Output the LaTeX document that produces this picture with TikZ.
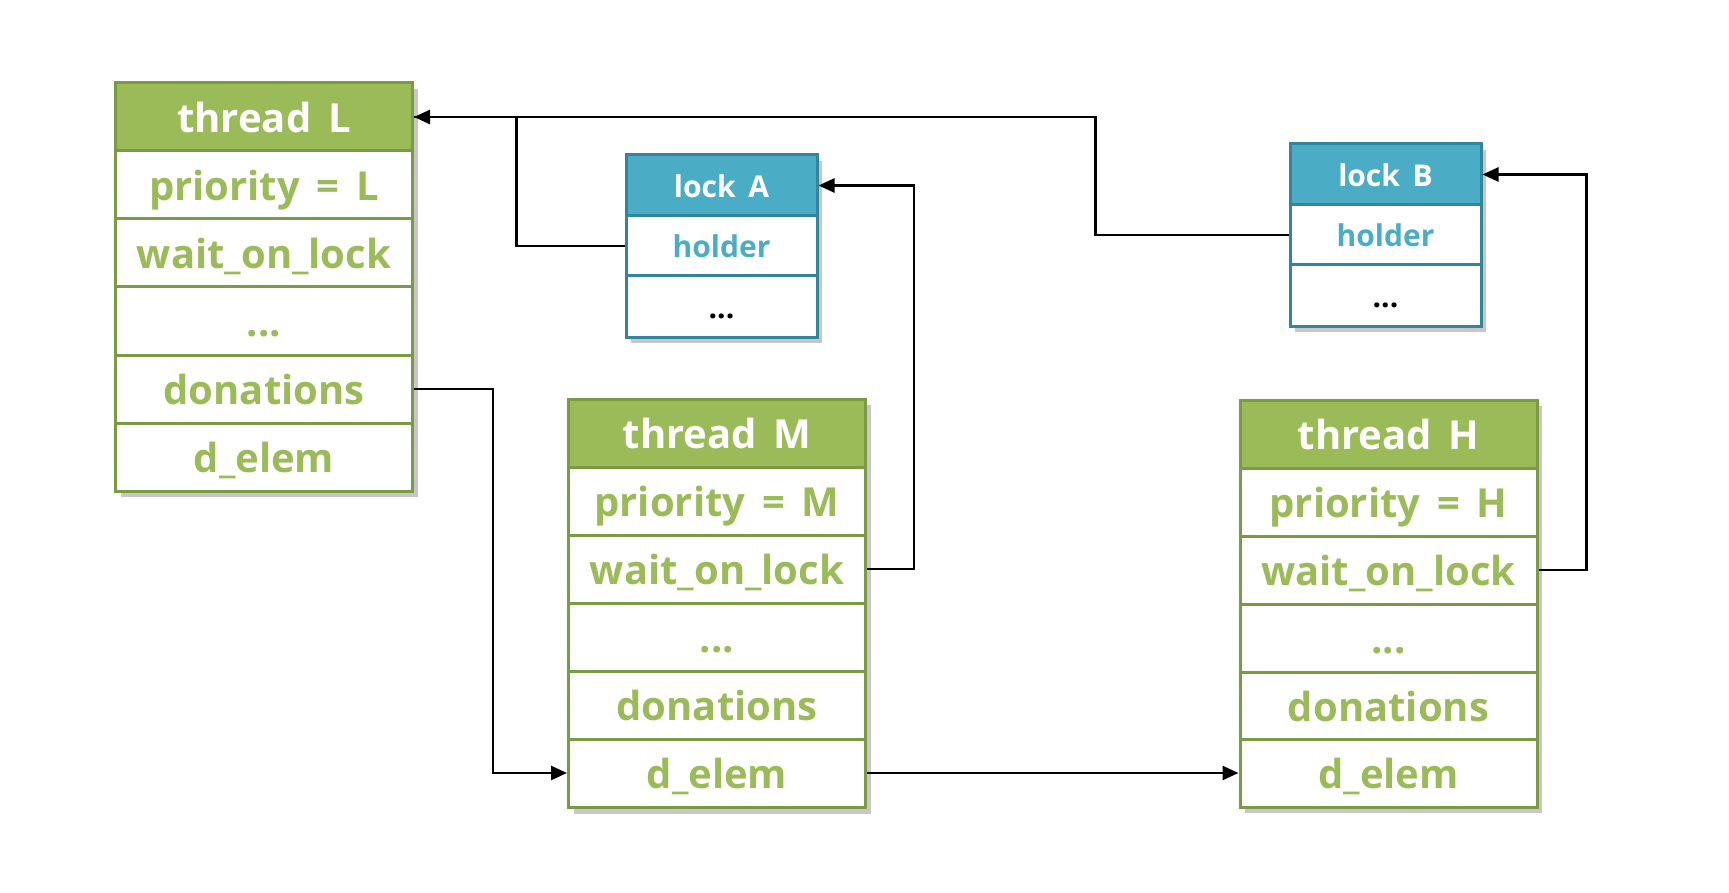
\documentclass[tikz,border=0pt]{standalone}
\usepackage{fontspec}
\setmainfont{Open Sans}
\usetikzlibrary{shadows,arrows.meta}
\definecolor{grn}{HTML}{9BBB59}
\definecolor{grnd}{HTML}{7A9A43}
\definecolor{blu}{HTML}{4BACC6}
\definecolor{blud}{HTML}{31859C}
\newcommand{\gap}{\hspace{0.42em}}
\tikzset{
  tbox/.style={draw=grnd, line width=3pt, fill=white, minimum width=297pt, minimum height=68pt, inner sep=0pt,
    font=\fontsize{40}{48}\selectfont\bfseries, text=grn, text height=38pt, text depth=7pt},
  thead/.style={tbox, fill=grn, text=white},
  tshadow/.style={fill=white, draw=none, minimum width=297pt, inner sep=0pt,
    drop shadow={shadow xshift=5pt, shadow yshift=-6pt, opacity=0.55, fill=gray!80}},
  lbox/.style={draw=blud, line width=3pt, fill=white, minimum width=191pt, minimum height=61pt, inner sep=0pt,
    font=\fontsize{30}{36}\selectfont\bfseries, text=blu, text height=28pt, text depth=4pt},
  lhead/.style={lbox, fill=blu, text=white},
  conn/.style={line width=2.6pt, draw=black},
  arr/.style={conn, -{Triangle[length=16pt,width=14pt]}},
}
\begin{document}
\begin{tikzpicture}[x=1pt,y=-1pt]
\useasboundingbox (0,0) rectangle (1729,893);
% shadows
\node[tshadow, minimum height=408pt] (Ls) at (264,287) {};
\node[tshadow, minimum height=409pt] (Ms) at (717,603) {};
\node[tshadow, minimum height=407pt] (Hs) at (1388.5,603.5) {};
\node[tshadow, minimum width=191pt, minimum height=182pt] (As) at (721.5,246) {};
\node[tshadow, minimum width=191pt, minimum height=182pt] (Bs) at (1385.5,235) {};
% thread L
\node[thead] (Lh) at (264,117) {thread\gap L};
\node[tbox] (Lp) at (264,185) {priority\gap=\gap L};
\node[tbox] (Lw) at (264,253) {wait\_on\_lock};
\node[tbox] (Lx) at (264,321) {...};
\node[tbox] (Ldon) at (264,389) {donations};
\node[tbox] (Ld) at (264,457) {d\_elem};
% thread M
\node[thead] (Mh) at (717,433) {thread\gap M};
\node[tbox] (Mp) at (717,501) {priority\gap=\gap M};
\node[tbox] (Mw) at (717,569) {wait\_on\_lock};
\node[tbox] (Mx) at (717,637) {...};
\node[tbox] (Mdon) at (717,705) {donations};
\node[tbox] (Md) at (717,773) {d\_elem};
% thread H
\node[thead] (Hh) at (1388.5,434) {thread\gap H};
\node[tbox] (Hp) at (1388.5,502) {priority\gap=\gap H};
\node[tbox] (Hw) at (1388.5,570) {wait\_on\_lock};
\node[tbox] (Hx) at (1388.5,638) {...};
\node[tbox] (Hdon) at (1388.5,706) {donations};
\node[tbox] (Hd) at (1388.5,773) {d\_elem};
% lock A
\node[lhead] (Ah) at (721.5,185.5) {lock\gap A};
\node[lbox] (Ahold) at (721.5,246) {holder};
\node[lbox, text=black] (Ax) at (721.5,306.5) {...};
% lock B
\node[lhead] (Bh) at (1385.5,174.5) {lock\gap B};
\node[lbox] (Bhold) at (1385.5,235) {holder};
\node[lbox, text=black] (Bx) at (1385.5,295.5) {...};
% connectors
\draw[arr] (Bhold.west) -- ++(-193,0) |- (Lh.east);
\draw[conn] (Ahold.west) -- ++(-108,0) |- (Lh.east);
\draw[arr] (Ldon.east) -- ++(79,0) |- (Md.west);
\draw[arr] (Mw.east) -- ++(47,0) |- (Ah.east);
\draw[arr] (Md.east) -- (Hd.west);
\draw[arr] (Hw.east) -- ++(48,0) |- (Bh.east);
\end{tikzpicture}
\end{document}
